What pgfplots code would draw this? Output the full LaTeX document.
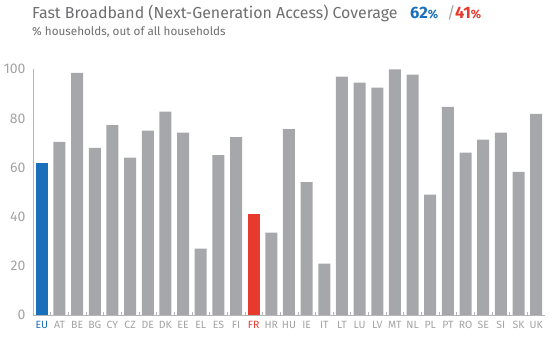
\documentclass[border=0pt]{standalone}
\usepackage{pgfplots}
\pgfplotsset{compat=1.18}
\usepackage{fontspec}
\setmainfont{Fira Sans}
\definecolor{barg}{HTML}{A6A7AA}
\definecolor{eublue}{HTML}{1A6FBA}
\definecolor{frred}{HTML}{E8392F}
\definecolor{titleg}{HTML}{6E6E70}
\definecolor{tickg}{HTML}{A3A3A5}
\begin{document}
\begin{tikzpicture}
\path[use as bounding box] (-33pt,-27pt) rectangle (519pt,315pt);
\begin{axis}[scale only axis,
  width=512pt, height=245.7pt,
  xmin=-0.5, xmax=28.5, ymin=0, ymax=100,
  axis lines=left,
  axis line style={-, draw=tickg!80, line width=0.6pt},
  ytick={0,20,...,100},
  major tick length=0pt,
  minor x tick num=1,
  minor tick length=3pt,
  xtick align=inside,
  minor tick style={draw=tickg!80, line width=0.6pt},
  yticklabel style={font=\fontsize{14}{16}\selectfont, text=tickg, /pgf/number format/assume math mode=true, xshift=-4pt},
  xtick={0,...,28},
  xticklabels={\textcolor{eublue}{EU},AT,BE,BG,CY,CZ,DE,DK,EE,EL,ES,FI,\textcolor{frred}{FR},HR,HU,IE,IT,LT,LU,LV,MT,NL,PL,PT,RO,SE,SI,SK,UK},
  xticklabel style={font=\fontsize{10.5}{12}\selectfont, text=tickg, yshift=-3pt},
  clip=false,
]
\addplot[ybar, bar width=12pt, bar shift=0pt, fill=barg, draw=none] coordinates {
(1,70.5) (2,98.5) (3,68) (4,77.3) (5,64) (6,75) (7,82.8) (8,74.2) (9,27) (10,65.1) (11,72.4)
(13,33.5) (14,75.7) (15,54.1) (16,20.9) (17,97) (18,94.6) (19,92.5) (20,100) (21,97.8) (22,49)
(23,84.7) (24,66.1) (25,71.4) (26,74.2) (27,58.3) (28,81.9)
};
\addplot[ybar, bar width=12pt, bar shift=0pt, fill=eublue, draw=none] coordinates {(0,62)};
\addplot[ybar, bar width=12pt, bar shift=0pt, fill=frred, draw=none] coordinates {(12,41.2)};
\end{axis}
\node[anchor=base west, inner sep=0, font=\fontsize{15.9}{18}\selectfont, text=titleg] at (-1pt,296pt) {Fast Broadband (Next-Generation Access) Coverage};
\node[anchor=base west, inner sep=0, font=\fontsize{16.5}{18}\selectfont\bfseries, text=eublue] at (377pt,296pt) {62{\fontsize{12}{12}\selectfont\%}};
\node[anchor=base west, inner sep=0, font=\fontsize{16}{18}\selectfont, text=tickg] at (414pt,296pt) {/};
\node[anchor=base west, inner sep=0, font=\fontsize{16.5}{18}\selectfont\bfseries, text=frred] at (422pt,296pt) {41{\fontsize{12}{12}\selectfont\%}};
\node[anchor=base west, inner sep=0, font=\fontsize{11.7}{13}\selectfont, text=titleg] at (-1pt,279pt) {\% households, out of all households};
\end{tikzpicture}
\end{document}
